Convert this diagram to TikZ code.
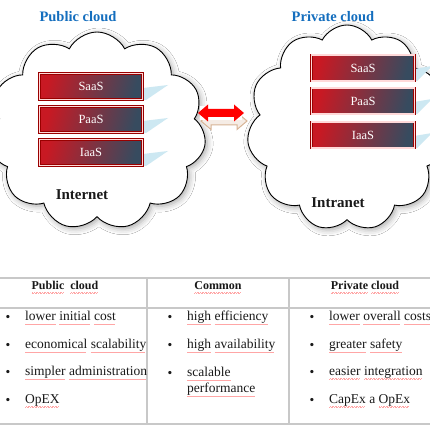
\documentclass[tikz,border=0pt]{standalone}
\usepackage{fontspec}
\setmainfont{Liberation Serif}
\usetikzlibrary{shapes.symbols,shadows.blur}
\newsavebox\sqbox
\newcommand\sqw[1]{\sbox\sqbox{#1}\rlap{\textcolor{red!35}{\leaders\hbox{\rule[-3.9pt]{0.8pt}{0.4pt}\rule[-3.3pt]{0.8pt}{0.4pt}}\hskip\wd\sqbox}}\usebox\sqbox}
\definecolor{titleblue}{RGB}{20,110,190}
\definecolor{boxred}{RGB}{200,25,35}
\definecolor{boxslate}{RGB}{55,75,95}
\definecolor{glowblue}{RGB}{205,232,242}
\definecolor{tablegray}{RGB}{200,200,200}
\definecolor{tan}{RGB}{215,180,150}
\tikzset{
  cloudshape/.style={cloud, cloud puffs=11, cloud puff arc=125, cloud ignores aspect,
    draw=black, line width=0.9pt, fill=white,
    blur shadow={shadow xshift=2pt, shadow yshift=-2pt, shadow blur radius=6pt, shadow opacity=35}},
  svcbox/.style={rectangle, minimum width=103pt, minimum height=26pt, inner sep=0pt,
    left color=boxred, right color=boxslate, shading angle=75,
    draw=red!60!black, double=pink!60!white, double distance=1.1pt, line width=0.5pt,
    text=white, font=\fontsize{12.5}{14}\selectfont},
  title/.style={font=\fontsize{14.5}{16}\selectfont\bfseries, text=titleblue},
  netlabel/.style={font=\fontsize{15}{17}\selectfont\bfseries, text=black!90},
  tline/.style={draw=tablegray, line width=1.5pt},
  head/.style={font=\fontsize{12}{14}\selectfont\bfseries, text=black!90},
  item/.style={anchor=west, font=\fontsize{13.5}{15}\selectfont, text=black!90, inner sep=0pt},
  bul/.style={font=\fontsize{13.5}{15}\selectfont, text=black!90, inner sep=0pt},
  glow/.style={fill=glowblue, draw=none}
}
\begin{document}
\begin{tikzpicture}[x=1pt,y=-1pt]
\useasboundingbox (0,0) rectangle (430,430);
\fill[white] (0,0) rectangle (430,430);

% titles
\node[title] (t1) at (78,17) {Public cloud};
\node[title] (t2) at (333,17) {Private cloud};

% clouds
\node[cloudshape, minimum width=218pt, minimum height=198pt] (c1) at (97,131) {};
\node[cloudshape, minimum width=200pt, minimum height=206pt] (c2) at (347,128) {};

% glow triangles
\fill[glow] (143,88) -- (168,85) -- (146,100) -- (143,100) -- cycle;
\fill[glow] (143,121) -- (168,118) -- (146,133) -- (143,133) -- cycle;
\fill[glow] (143,154) -- (168,151) -- (146,166) -- (143,166) -- cycle;
\fill[glow] (414,69) -- (432,66) -- (417,81) -- (414,81) -- cycle;
\fill[glow] (414,102) -- (432,99) -- (417,114) -- (414,114) -- cycle;
\fill[glow] (414,136) -- (432,133) -- (417,148) -- (414,148) -- cycle;

% service boxes
\node[svcbox] (ls) at (91,86.5) {SaaS};
\node[svcbox] (lp) at (91,119.5) {PaaS};
\node[svcbox] (li) at (91,152.5) {IaaS};
\node[svcbox] (rs) at (363,68) {SaaS};
\node[svcbox] (rp) at (363,101) {PaaS};
\node[svcbox] (ri) at (363,135) {IaaS};

\node[netlabel] (inet) at (82,195) {Internet};
\node[netlabel] (intra) at (338,203) {Intranet};

% double arrow with shadow
\begin{scope}[shift={(3,8)}]
\filldraw[fill=tan!25, draw=tan, line width=1pt] (198,113) -- (208,104.5) -- (208,109) -- (234,109) -- (234,104.5) -- (244,113) -- (234,121.5) -- (234,117) -- (208,117) -- (208,121.5) -- cycle;
\end{scope}
\fill[white] (200,106) rectangle (242,120);
\fill[red] (198,113) -- (208,104.5) -- (208,109) -- (234,109) -- (234,104.5) -- (244,113) -- (234,121.5) -- (234,117) -- (208,117) -- (208,121.5) -- cycle;

% table
\draw[tline] (0,278) -- (430,278);
\draw[tline] (0,308) -- (430,308);
\draw[tline] (0,424) -- (430,424);
\draw[tline] (147,278) -- (147,424);
\draw[tline] (289,278) -- (289,424);

\node[head] (h1) at (65,287) {\sqw{Public}\ \ \sqw{cloud}};
\node[head] (h2) at (218,287) {\sqw{Common}};
\node[head] (h3) at (365,287) {\sqw{Private} \sqw{cloud}};

% left column
\foreach \y [count=\i] in {318,346,373,401} {\node[bul] (lb\i) at (8,\y) {\textbullet};}
\node[item] (l1) at (25,318) {\sqw{lower} \sqw{initial} \sqw{cost}};
\node[item] (l2) at (25,346) {\sqw{economical} \sqw{scalability}};
\node[item] (l3) at (25,373) {\sqw{simpler} \sqw{administration}};
\node[item] (l4) at (25,401) {\sqw{OpEX}};

% middle column
\foreach \y [count=\i] in {318,346,374} {\node[bul] (mb\i) at (170,\y) {\textbullet};}
\node[item] (m1) at (187,318) {\sqw{high} \sqw{efficiency}};
\node[item] (m2) at (187,346) {\sqw{high} \sqw{availability}};
\node[item] (m3) at (187,374) {\sqw{scalable}};
\node[item] (m4) at (187,390) {\sqw{performance}};

% right column
\foreach \y [count=\i] in {318,346,373,401} {\node[bul] (rb\i) at (312,\y) {\textbullet};}
\node[item] (r1) at (329,318) {\sqw{lower} \sqw{overall} \sqw{costs}};
\node[item] (r2) at (329,346) {\sqw{greater} \sqw{safety}};
\node[item] (r3) at (329,373) {\sqw{easier} \sqw{integration}};
\node[item] (r4) at (329,401) {\sqw{CapEx} a \sqw{OpEx}};
\end{tikzpicture}
\end{document}
